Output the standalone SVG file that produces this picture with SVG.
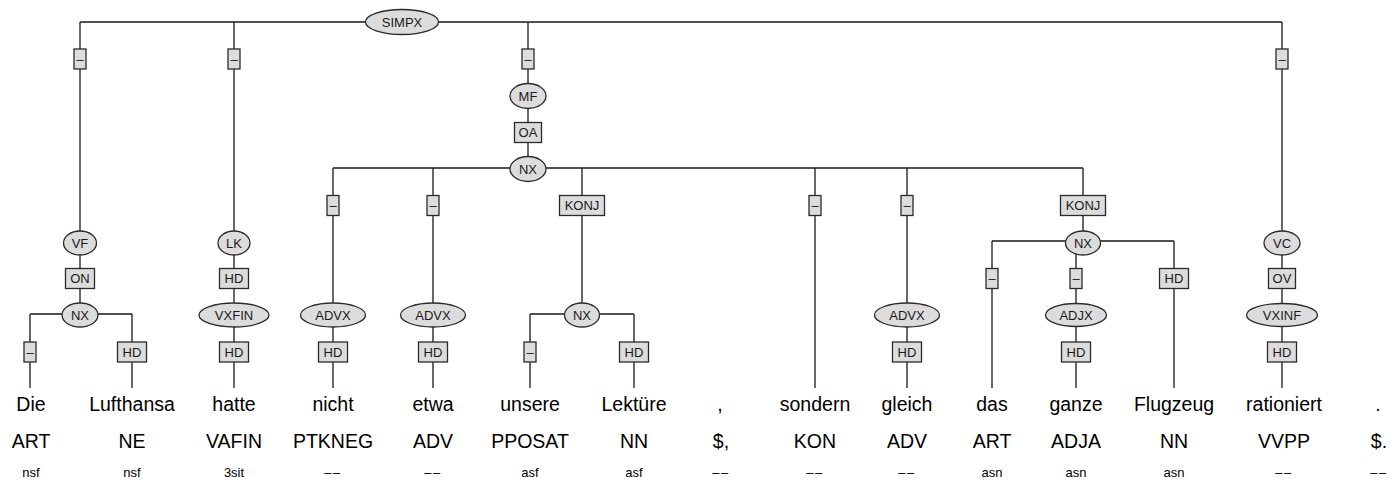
<svg xmlns="http://www.w3.org/2000/svg" width="1400" height="483" viewBox="0 0 1400 483">
<style>
.e{fill:#dcdcdc;stroke:#2a2a2a;stroke-width:1.3}
.b{fill:#dcdcdc;stroke:#2a2a2a;stroke-width:1.3}
.l{fill:none;stroke:#1a1a1a;stroke-width:1.3}
.t{font-family:"Liberation Sans",Arial,sans-serif;font-size:13px;fill:#1a1a1a;text-anchor:middle}
.w{font-family:"Liberation Sans",Arial,sans-serif;font-size:19.5px;fill:#000;text-anchor:middle}
.m{font-family:"Liberation Sans",Arial,sans-serif;font-size:13px;fill:#000;text-anchor:middle}
.d{letter-spacing:1.5px}
</style>
<rect width="1400" height="483" fill="#fff"/>
<g id="connectors">
<path class="l" d="M80,22H1282M80,22V315M234,22V315M528,22V169M1282,22V315"/>
<path class="l" d="M333,168H1083M333,168V388M433,168V388M582,168V314M815,168V388M907,168V388M1083,168V241"/>
<path class="l" d="M30,314H132M30,314V388M132,314V388"/>
<path class="l" d="M234,315V388M1282,315V388"/>
<path class="l" d="M530,314H634M530,314V388M634,314V388"/>
<path class="l" d="M992,241H1174M992,241V388M1076,241V388M1174,241V388"/>
</g>
<g id="n-simpx"><ellipse class="e" cx="402" cy="22" rx="36.5" ry="12.5"/><text class="t" x="402" y="26.5">SIMPX</text></g>
<g id="e-vf"><rect class="b" x="74" y="49" width="12" height="20"/><text class="t" x="80" y="63.5">–</text></g>
<g id="e-lk"><rect class="b" x="228" y="49" width="12" height="20"/><text class="t" x="234" y="63.5">–</text></g>
<g id="e-mf"><rect class="b" x="522" y="49" width="12" height="20"/><text class="t" x="528" y="63.5">–</text></g>
<g id="e-vc"><rect class="b" x="1276" y="49" width="12" height="20"/><text class="t" x="1282" y="63.5">–</text></g>
<g id="n-mf"><ellipse class="e" cx="528" cy="96" rx="18" ry="12.5"/><text class="t" x="528" y="100.5">MF</text></g>
<g id="e-oa"><rect class="b" x="514.5" y="122.5" width="27" height="20"/><text class="t" x="528" y="137">OA</text></g>
<g id="n-nx1"><ellipse class="e" cx="528" cy="169" rx="18" ry="12.5"/><text class="t" x="528" y="173.5">NX</text></g>
<g id="e-nicht"><rect class="b" x="327" y="195.5" width="12" height="20"/><text class="t" x="333" y="210">–</text></g>
<g id="e-etwa"><rect class="b" x="427" y="195.5" width="12" height="20"/><text class="t" x="433" y="210">–</text></g>
<g id="e-konj1"><rect class="b" x="559.5" y="195.5" width="45" height="20"/><text class="t" x="582" y="210">KONJ</text></g>
<g id="e-sondern"><rect class="b" x="809" y="195.5" width="12" height="20"/><text class="t" x="815" y="210">–</text></g>
<g id="e-gleich"><rect class="b" x="901" y="195.5" width="12" height="20"/><text class="t" x="907" y="210">–</text></g>
<g id="e-konj2"><rect class="b" x="1060.5" y="195.5" width="45" height="20"/><text class="t" x="1083" y="210">KONJ</text></g>
<g id="n-vf"><ellipse class="e" cx="80" cy="243" rx="16.5" ry="12"/><text class="t" x="80" y="247.5">VF</text></g>
<g id="n-lk"><ellipse class="e" cx="234" cy="243" rx="16" ry="12"/><text class="t" x="234" y="247.5">LK</text></g>
<g id="n-nx3"><ellipse class="e" cx="1083" cy="243" rx="17.5" ry="12"/><text class="t" x="1083" y="247.5">NX</text></g>
<g id="n-vc"><ellipse class="e" cx="1282" cy="243" rx="18" ry="12"/><text class="t" x="1282" y="247.5">VC</text></g>
<g id="e-on"><rect class="b" x="65.5" y="268.5" width="29" height="20"/><text class="t" x="80" y="283">ON</text></g>
<g id="e-hd-lk"><rect class="b" x="219.5" y="268.5" width="29" height="20"/><text class="t" x="234" y="283">HD</text></g>
<g id="e-das"><rect class="b" x="986" y="268.5" width="12" height="20"/><text class="t" x="992" y="283">–</text></g>
<g id="e-ganze"><rect class="b" x="1070" y="268.5" width="12" height="20"/><text class="t" x="1076" y="283">–</text></g>
<g id="e-flugzeug"><rect class="b" x="1159.5" y="268.5" width="29" height="20"/><text class="t" x="1174" y="283">HD</text></g>
<g id="e-ov"><rect class="b" x="1268.5" y="268.5" width="27" height="20"/><text class="t" x="1282" y="283">OV</text></g>
<g id="n-nx0"><ellipse class="e" cx="80" cy="315" rx="18" ry="12"/><text class="t" x="80" y="319.5">NX</text></g>
<g id="n-vxfin"><ellipse class="e" cx="234" cy="315" rx="35" ry="12"/><text class="t" x="234" y="319.5">VXFIN</text></g>
<g id="n-advx1"><ellipse class="e" cx="333" cy="315" rx="32.5" ry="12"/><text class="t" x="333" y="319.5">ADVX</text></g>
<g id="n-advx2"><ellipse class="e" cx="433" cy="315" rx="32.5" ry="12"/><text class="t" x="433" y="319.5">ADVX</text></g>
<g id="n-nx2"><ellipse class="e" cx="582" cy="315" rx="17.5" ry="12"/><text class="t" x="582" y="319.5">NX</text></g>
<g id="n-advx3"><ellipse class="e" cx="907" cy="315" rx="32.5" ry="12"/><text class="t" x="907" y="319.5">ADVX</text></g>
<g id="n-adjx"><ellipse class="e" cx="1076" cy="315" rx="30.5" ry="11.5"/><text class="t" x="1076" y="319.5">ADJX</text></g>
<g id="n-vxinf"><ellipse class="e" cx="1282" cy="315" rx="35.5" ry="11.5"/><text class="t" x="1282" y="319.5">VXINF</text></g>
<g id="e-die"><rect class="b" x="24" y="342" width="12" height="20"/><text class="t" x="30" y="356.5">–</text></g>
<g id="e-lufthansa"><rect class="b" x="117.5" y="342" width="29" height="20"/><text class="t" x="132" y="356.5">HD</text></g>
<g id="e-hatte"><rect class="b" x="219.5" y="342" width="29" height="20"/><text class="t" x="234" y="356.5">HD</text></g>
<g id="e-nicht2"><rect class="b" x="318.5" y="342" width="29" height="20"/><text class="t" x="333" y="356.5">HD</text></g>
<g id="e-etwa2"><rect class="b" x="418.5" y="342" width="29" height="20"/><text class="t" x="433" y="356.5">HD</text></g>
<g id="e-unsere"><rect class="b" x="524" y="342" width="12" height="20"/><text class="t" x="530" y="356.5">–</text></g>
<g id="e-lektuere"><rect class="b" x="619.5" y="342" width="29" height="20"/><text class="t" x="634" y="356.5">HD</text></g>
<g id="e-gleich2"><rect class="b" x="892.5" y="342" width="29" height="20"/><text class="t" x="907" y="356.5">HD</text></g>
<g id="e-ganze2"><rect class="b" x="1061.5" y="342" width="29" height="20"/><text class="t" x="1076" y="356.5">HD</text></g>
<g id="e-rationiert"><rect class="b" x="1267.5" y="342" width="29" height="20"/><text class="t" x="1282" y="356.5">HD</text></g>
<g id="tokens">
<text class="w" x="31" y="411">Die</text><text class="w" x="132" y="411">Lufthansa</text><text class="w" x="234" y="411">hatte</text><text class="w" x="333" y="411">nicht</text><text class="w" x="433" y="411">etwa</text><text class="w" x="530" y="411">unsere</text><text class="w" x="634" y="411">Lektüre</text><text class="w" x="720" y="411">,</text><text class="w" x="815" y="411">sondern</text><text class="w" x="907" y="411">gleich</text><text class="w" x="992" y="411">das</text><text class="w" x="1076" y="411">ganze</text><text class="w" x="1174" y="411">Flugzeug</text><text class="w" x="1284" y="411">rationiert</text><text class="w" x="1378" y="411">.</text>
<text class="w" x="31" y="448">ART</text><text class="w" x="132" y="448">NE</text><text class="w" x="234" y="448">VAFIN</text><text class="w" x="333" y="448">PTKNEG</text><text class="w" x="433" y="448">ADV</text><text class="w" x="530" y="448">PPOSAT</text><text class="w" x="634" y="448">NN</text><text class="w" x="721" y="448">$,</text><text class="w" x="815" y="448">KON</text><text class="w" x="907" y="448">ADV</text><text class="w" x="992" y="448">ART</text><text class="w" x="1076" y="448">ADJA</text><text class="w" x="1174" y="448">NN</text><text class="w" x="1284" y="448">VVPP</text><text class="w" x="1379" y="448">$.</text>
<text class="m" x="31" y="477">nsf</text><text class="m" x="132" y="477">nsf</text><text class="m" x="234" y="477">3sit</text><text class="m d" x="333" y="477">––</text><text class="m d" x="433" y="477">––</text><text class="m" x="530" y="477">asf</text><text class="m" x="634" y="477">asf</text><text class="m d" x="721" y="477">––</text><text class="m d" x="815" y="477">––</text><text class="m d" x="907" y="477">––</text><text class="m" x="992" y="477">asn</text><text class="m" x="1076" y="477">asn</text><text class="m" x="1174" y="477">asn</text><text class="m d" x="1284" y="477">––</text><text class="m d" x="1379" y="477">––</text>
</g>
</svg>
